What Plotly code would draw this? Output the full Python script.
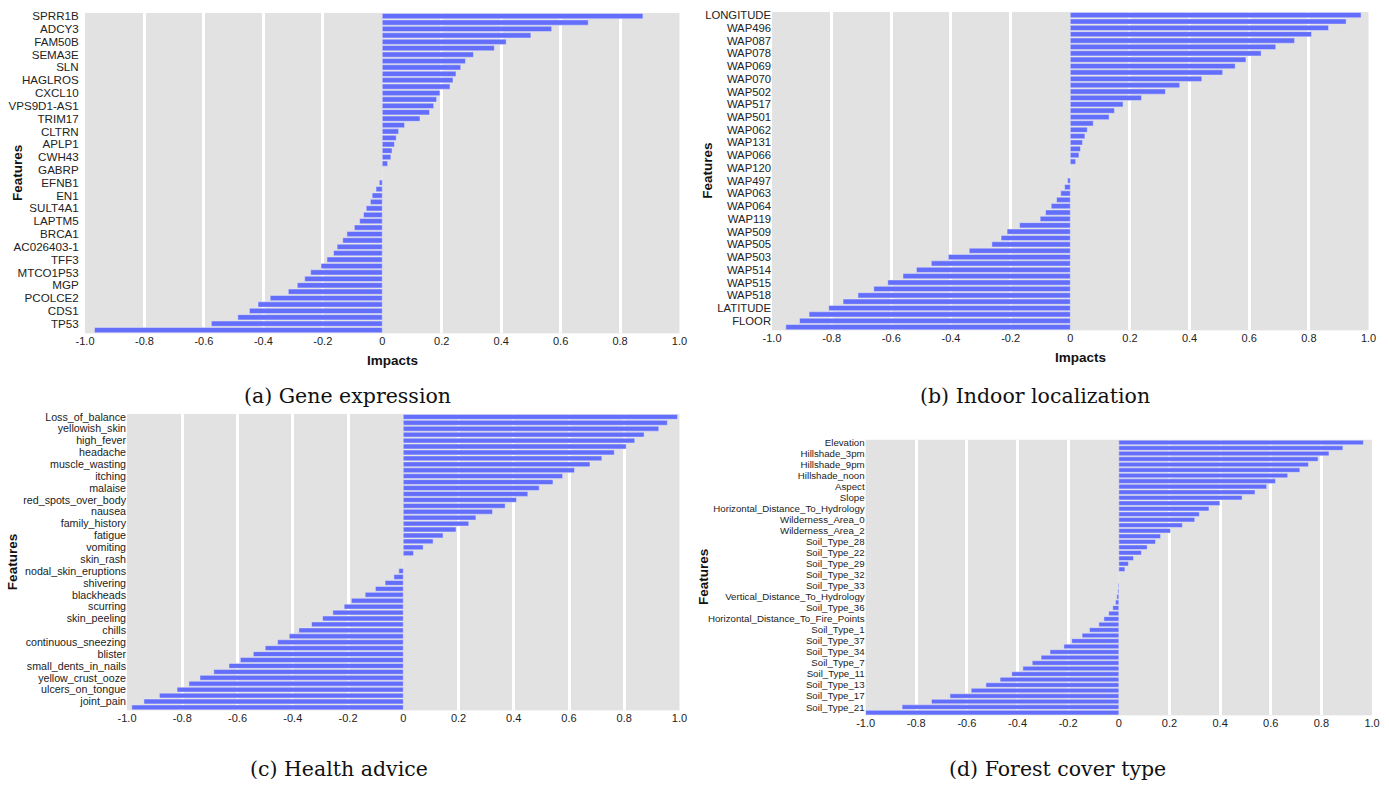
import plotly.graph_objects as go

# ---------------- data ----------------
# each panel: 25 labelled features (every other row is labelled), 50 impact values (top -> bottom)
gene_features = ["SPRR1B", "ADCY3", "FAM50B", "SEMA3E", "SLN", "HAGLROS", "CXCL10", "VPS9D1-AS1",
                 "TRIM17", "CLTRN", "APLP1", "CWH43", "GABRP", "EFNB1", "EN1", "SULT4A1", "LAPTM5",
                 "BRCA1", "AC026403-1", "TFF3", "MTCO1P53", "MGP", "PCOLCE2", "CDS1", "TP53"]
gene_impacts = [0.877, 0.693, 0.570, 0.500, 0.417, 0.377, 0.307, 0.280, 0.264, 0.248, 0.238, 0.228,
                0.194, 0.183, 0.173, 0.159, 0.127, 0.075, 0.055, 0.047, 0.041, 0.033, 0.029, 0.018,
                0.0, 0.0,
                -0.010, -0.021, -0.034, -0.040, -0.054, -0.063, -0.076, -0.094, -0.119, -0.133,
                -0.152, -0.164, -0.186, -0.206, -0.241, -0.261, -0.286, -0.316, -0.377, -0.418,
                -0.447, -0.486, -0.575, -0.968]

indoor_features = ["LONGITUDE", "WAP496", "WAP087", "WAP078", "WAP069", "WAP070", "WAP502", "WAP517",
                   "WAP501", "WAP062", "WAP131", "WAP066", "WAP120", "WAP497", "WAP063", "WAP064",
                   "WAP119", "WAP509", "WAP505", "WAP503", "WAP514", "WAP515", "WAP518", "LATITUDE", "FLOOR"]
indoor_impacts = [0.975, 0.925, 0.866, 0.809, 0.752, 0.689, 0.640, 0.589, 0.553, 0.511, 0.441, 0.367,
                  0.319, 0.239, 0.177, 0.148, 0.130, 0.077, 0.057, 0.049, 0.041, 0.034, 0.029, 0.018,
                  0.0, 0.0,
                  -0.009, -0.019, -0.032, -0.046, -0.064, -0.083, -0.101, -0.170, -0.212, -0.232,
                  -0.263, -0.339, -0.409, -0.466, -0.516, -0.561, -0.612, -0.659, -0.712, -0.762,
                  -0.810, -0.876, -0.908, -0.954]

health_features = ["Loss_of_balance", "yellowish_skin", "high_fever", "headache", "muscle_wasting",
                   "itching", "malaise", "red_spots_over_body", "nausea", "family_history", "fatigue",
                   "vomiting", "skin_rash", "nodal_skin_eruptions", "shivering", "blackheads", "scurring",
                   "skin_peeling", "chills", "continuous_sneezing", "blister", "small_dents_in_nails",
                   "yellow_crust_ooze", "ulcers_on_tongue", "joint_pain"]
health_impacts = [0.993, 0.956, 0.925, 0.872, 0.838, 0.807, 0.764, 0.719, 0.676, 0.620, 0.577, 0.542,
                  0.492, 0.451, 0.410, 0.369, 0.323, 0.263, 0.237, 0.191, 0.144, 0.108, 0.072, 0.037,
                  0.0, 0.0,
                  -0.016, -0.034, -0.066, -0.101, -0.138, -0.188, -0.214, -0.255, -0.292, -0.332,
                  -0.378, -0.413, -0.455, -0.500, -0.543, -0.590, -0.631, -0.686, -0.736, -0.776,
                  -0.819, -0.883, -0.939, -0.983]

forest_features = ["Elevation", "Hillshade_3pm", "Hillshade_9pm", "Hillshade_noon", "Aspect", "Slope",
                   "Horizontal_Distance_To_Hydrology", "Wilderness_Area_0", "Wilderness_Area_2",
                   "Soil_Type_28", "Soil_Type_22", "Soil_Type_29", "Soil_Type_32", "Soil_Type_33",
                   "Vertical_Distance_To_Hydrology", "Soil_Type_36", "Horizontal_Distance_To_Fire_Points",
                   "Soil_Type_1", "Soil_Type_37", "Soil_Type_34", "Soil_Type_7", "Soil_Type_11",
                   "Soil_Type_13", "Soil_Type_17", "Soil_Type_21"]
forest_impacts = [0.966, 0.885, 0.830, 0.787, 0.749, 0.715, 0.667, 0.619, 0.584, 0.538, 0.487, 0.399,
                  0.356, 0.318, 0.300, 0.251, 0.204, 0.165, 0.145, 0.112, 0.089, 0.058, 0.038, 0.024,
                  0.0, 0.0,
                  -0.003, -0.004, -0.008, -0.013, -0.024, -0.040, -0.059, -0.079, -0.116, -0.145,
                  -0.186, -0.217, -0.272, -0.307, -0.342, -0.379, -0.423, -0.469, -0.525, -0.583,
                  -0.667, -0.740, -0.856, -1.0]

captions = ["(a) Gene expression", "(b) Indoor localization", "(c) Health advice", "(d) Forest cover type"]

x_tickvals = [-1.0, -0.8, -0.6, -0.4, -0.2, 0, 0.2, 0.4, 0.6, 0.8, 1.0]
x_ticktext = ["-1.0", "-0.8", "-0.6", "-0.4", "-0.2", "0", "0.2", "0.4", "0.6", "0.8", "1.0"]
grid_vals = [-0.8, -0.6, -0.4, -0.2, 0.2, 0.4, 0.6, 0.8]

# ---------------- layout helpers (reference pixel coords -> paper) ----------------
W, H = 1389, 788
CX, SX = W / 2, 0.987   # horizontal compensation for the capture


def px(x):
    return (CX + (x - CX) / SX) / W


def py(y):
    return 1 - y / H


panels = [
    dict(f=gene_features, v=gene_impacts, box=(85, 9, 679, 331), fs=11.6, tl=3,
         ftx=17, imp=(392, 358), cap=(347, 394)),
    dict(f=indoor_features, v=indoor_impacts, box=(771.5, 8, 1367.5, 328), fs=11.3, tl=0,
         ftx=707, imp=(1080, 355), cap=(1034, 394)),
    dict(f=health_features, v=health_impacts, box=(127, 412, 679, 710), fs=10.7, tl=0,
         ftx=12, imp=None, cap=(339, 769)),
    dict(f=forest_features, v=forest_impacts, box=(865, 438, 1371, 715), fs=9.7, tl=0,
         ftx=703, imp=None, cap=(1057, 769)),
]

fig = go.Figure()
annotations = []
layout = {}
SANS = "Liberation Sans, Arial, sans-serif"

for i, p in enumerate(panels):
    n = i + 1
    xa = "x" if n == 1 else f"x{n}"
    ya = "y" if n == 1 else f"y{n}"
    rows = list(range(len(p["v"])))
    fig.add_trace(go.Bar(
        x=p["v"], y=rows, orientation="h", xaxis=xa, yaxis=ya,
        marker=dict(color="#636efa", line=dict(color="rgba(235,235,245,0.8)", width=0.6)),
        showlegend=False,
    ))
    x0, y0, x1, y1 = p["box"]
    layout["xaxis" if n == 1 else f"xaxis{n}"] = dict(
        domain=[px(x0), px(x1)], anchor=ya, range=[-1, 1],
        tickmode="array", tickvals=x_tickvals, ticktext=x_ticktext,
        showgrid=False, zeroline=False, showline=False, ticks="",
        tickfont=dict(family=SANS, size=11, color="#222"),
        minor=dict(tickmode="array", tickvals=grid_vals, showgrid=True,
                   gridcolor="white", gridwidth=2.6, ticks=""),
        fixedrange=True,
    )
    ydict = dict(
        domain=[py(y1), py(y0)], anchor=xa,
        range=[len(rows) - 0.5, -0.5],
        tickmode="array", tickvals=rows[::2], ticktext=p["f"],
        showgrid=False, zeroline=False, showline=False,
        tickfont=dict(family=SANS, size=p["fs"], color="#222"),
        fixedrange=True,
    )
    if p["tl"] > 0:
        ydict.update(ticks="outside", ticklen=p["tl"], tickcolor="rgba(0,0,0,0)")
    else:
        ydict.update(ticks="")
    layout["yaxis" if n == 1 else f"yaxis{n}"] = ydict
    annotations.append(dict(
        text="<b>Features</b>", x=px(p["ftx"]), y=py((y0 + y1) / 2), xref="paper", yref="paper",
        textangle=-90, showarrow=False, xanchor="center", yanchor="middle",
        font=dict(family=SANS, size=13.5, color="#111"),
    ))
    if p["imp"] is not None:
        annotations.append(dict(
            text="<b>Impacts</b>", x=px(p["imp"][0]), y=py(p["imp"][1]), xref="paper", yref="paper",
            showarrow=False, xanchor="center", yanchor="middle",
            font=dict(family=SANS, size=13.5, color="#111"),
        ))
    annotations.append(dict(
        text=captions[i], x=px(p["cap"][0]), y=py(p["cap"][1]), xref="paper", yref="paper",
        showarrow=False, xanchor="center", yanchor="middle",
        font=dict(family="DejaVu Serif, serif", size=20.5, color="#111"),
    ))

fig.update_layout(
    width=W, height=H,
    margin=dict(l=0, r=0, t=0, b=0),
    paper_bgcolor="white",
    plot_bgcolor="#e2e2e2",
    bargap=0.18,
    annotations=annotations,
    **layout,
)

fig.write_html(
    "out.html",
    config={"displayModeBar": False},
    post_script="document.body.style.margin='0';document.body.style.overflow='hidden';",
)
